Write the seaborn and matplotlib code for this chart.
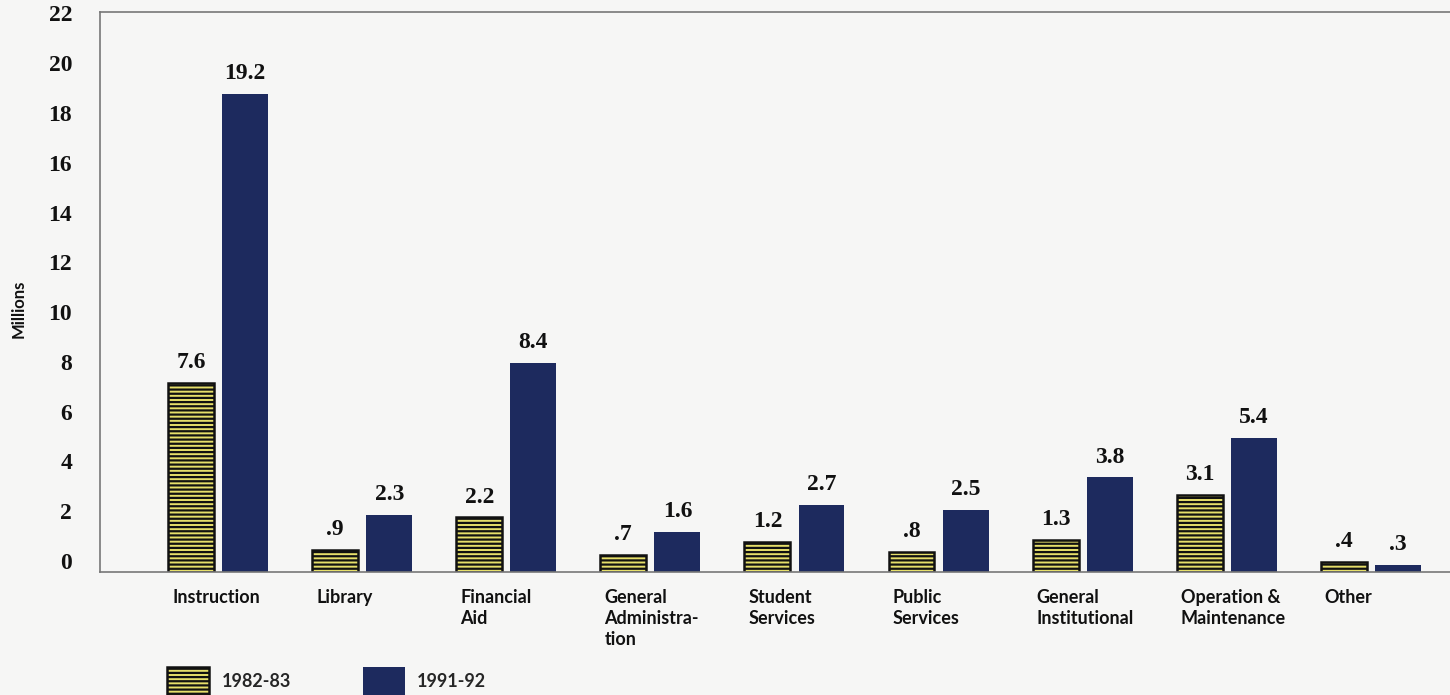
import matplotlib
matplotlib.use("Agg")
import matplotlib.pyplot as plt
import matplotlib.transforms as mtransforms
import seaborn as sns
import pandas as pd

categories = ["Instruction", "Library", "Financial\nAid", "General\nAdministra-\ntion",
              "Student\nServices", "Public\nServices", "General\nInstitutional",
              "Operation &\nMaintenance", "Other"]
years = ["1982-83", "1991-92"]
values_1982 = [7.6, 0.9, 2.2, 0.7, 1.2, 0.8, 1.3, 3.1, 0.4]
values_1991 = [19.2, 2.3, 8.4, 1.6, 2.7, 2.5, 3.8, 5.4, 0.3]
yticks = list(range(0, 23, 2))

sns.set_theme(style="white")
plt.rcParams["hatch.linewidth"] = 1.6

BG = "#f6f6f5"
YELLOW = "#e6df6a"
NAVY = "#1d2a5e"
TXT = "#111111"

df = pd.DataFrame({
    "category": categories * 2,
    "year": [years[0]] * len(categories) + [years[1]] * len(categories),
    "value": values_1982 + values_1991,
})

fig = plt.figure(figsize=(14.5, 6.95), dpi=100, facecolor=BG)
ax = fig.add_axes([100 / 1450, (695 - 572) / 695, 1 - 100 / 1450, (572 - 12) / 695])
ax.set_facecolor(BG)

sns.barplot(data=df, x="category", y="value", hue="year", order=categories,
            hue_order=years, palette=[YELLOW, NAVY], width=0.75, gap=0.15,
            saturation=1, ax=ax, legend=False)

for p in ax.containers[0]:
    p.set_hatch("----")
    p.set_edgecolor(TXT)
    p.set_linewidth(1.8)
for p in ax.containers[1]:
    p.set_edgecolor(NAVY)
    p.set_linewidth(0)

num_font = dict(family="Liberation Serif", fontsize=17, fontweight="bold", color=TXT)
for cont, vals in zip(ax.containers, [values_1982, values_1991]):
    labels = [f"{v:.1f}".lstrip("0") for v in vals]
    ax.bar_label(cont, labels=labels, padding=7, **num_font)

ax.set_xlim(-0.82, 8.55)
ax.set_ylim(0, 22.5)
ax.set_yticks(yticks)
ax.set_yticklabels([str(t) for t in yticks], **num_font)
ax.tick_params(axis="y", length=0, pad=20)
ax.tick_params(axis="x", length=0, pad=12)
for lab in ax.get_yticklabels():
    lab.set_transform(lab.get_transform() + mtransforms.ScaledTranslation(0, 11 / 100, fig.dpi_scale_trans))

lab_font = dict(family="Lato", fontsize=13, fontweight="bold", color=TXT)
ax.set_xticks(range(len(categories)))
ax.set_xticklabels(categories, ha="left", va="top", linespacing=1.3, **lab_font)
for lab in ax.get_xticklabels():
    lab.set_transform(lab.get_transform() + mtransforms.ScaledTranslation(-46 / 100, 0, fig.dpi_scale_trans))

ax.set_xlabel("")
ax.set_ylabel("Millions", family="Lato", fontsize=12, fontweight="bold", color=TXT)
ax.yaxis.set_label_coords(-0.054, 0.47)

for side in ["left", "top", "bottom"]:
    ax.spines[side].set_color("#777777")
    ax.spines[side].set_linewidth(1.2)
ax.spines["right"].set_visible(False)

fig.legend(handles=[ax.containers[0][0], ax.containers[1][0]], labels=years,
           loc="center left", bbox_to_anchor=(151 / 1450, (695 - 681) / 695),
           ncol=2, frameon=False, handlelength=2.3, handleheight=2.0,
           columnspacing=4.0, handletextpad=0.7,
           prop=dict(family="Lato", size=13, weight="bold"))

fig.savefig("out.png", dpi=100, facecolor=BG)
